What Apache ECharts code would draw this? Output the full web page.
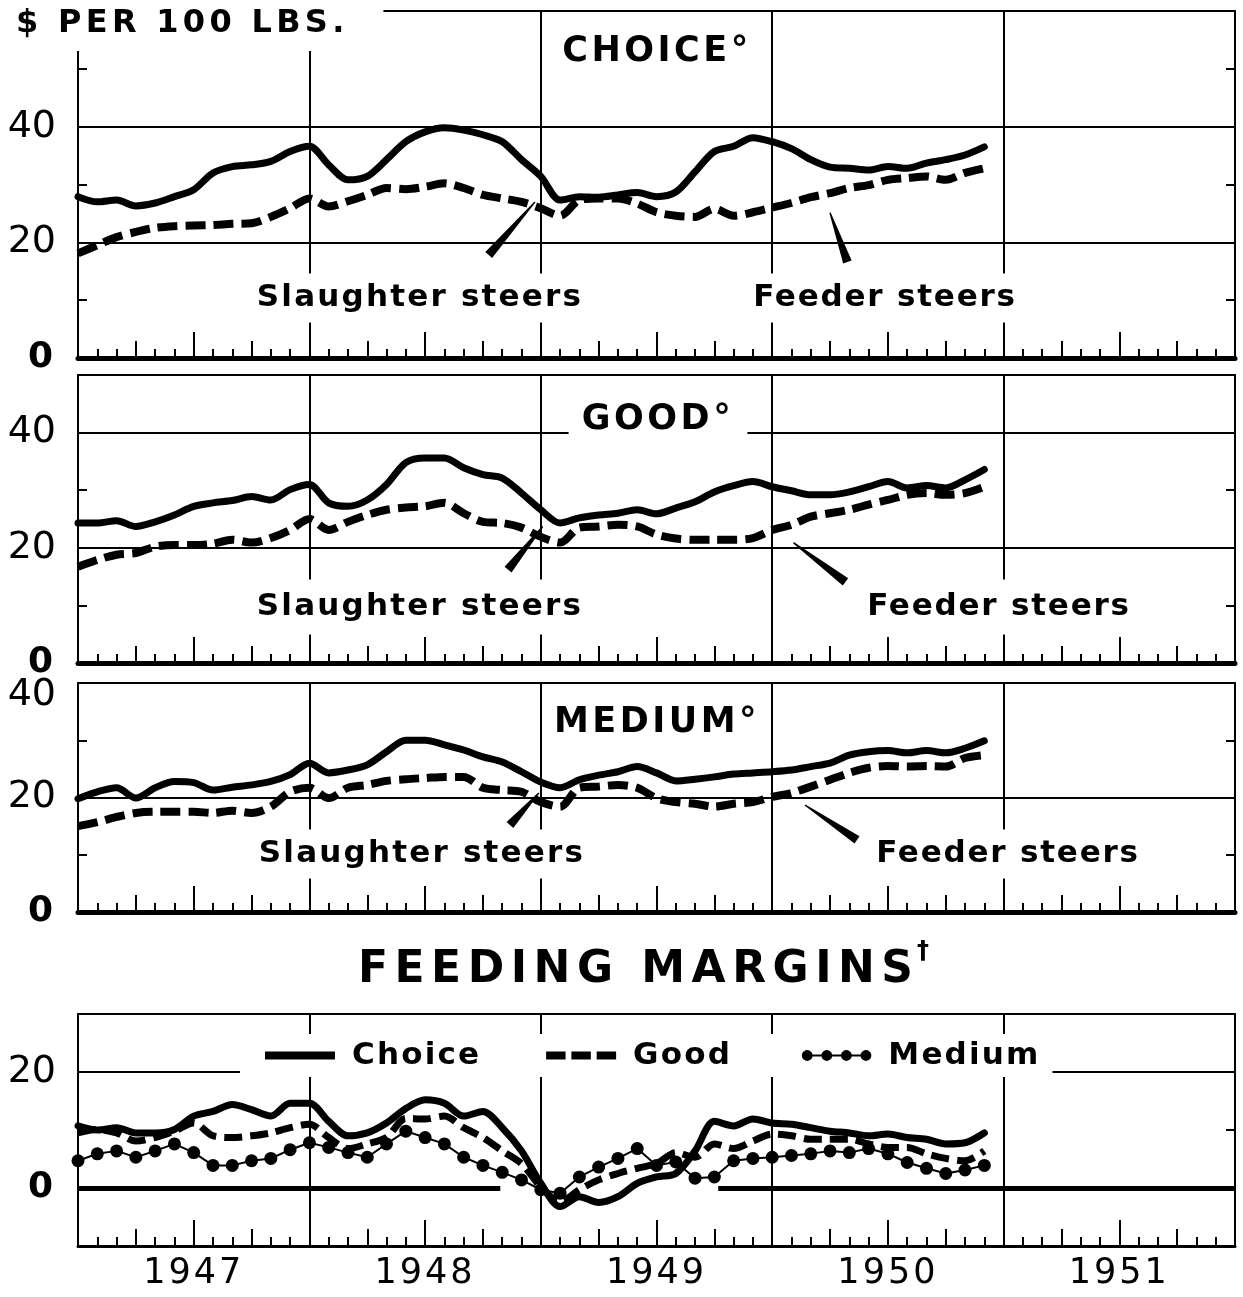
<!DOCTYPE html>
<html><head><meta charset="utf-8">
<script src="https://cdn.jsdelivr.net/npm/echarts@6.0.0/dist/echarts.min.js"></script>
<style>html,body{margin:0;padding:0;background:#fff}#c{width:1243px;height:1297px}</style>
</head><body><div id="c"></div>
<script>
// ---------------- data (monthly, Jan 1947 = index 0) ----------------
const yearLabels = ['1947', '1948', '1949', '1950', '1951'];

const choiceSlaughter = [27.9, 27.0, 27.3, 26.3, 26.8, 27.9, 29.1, 32.0, 33.1, 33.4, 34.0, 35.7,
  36.6, 33.4, 30.8, 31.4, 34.3, 37.4, 39.1, 39.8, 39.4, 38.6, 37.4, 34.3,
  31.4, 27.3, 27.9, 27.8, 28.2, 28.6, 27.9, 28.7, 32.2, 35.7, 36.6, 38.1,
  37.4, 36.2, 34.3, 33.0, 32.8, 32.5, 33.1, 32.8, 33.7, 34.3, 35.1, 36.5];
const choiceFeeder = [18.1, 19.5, 20.9, 21.8, 22.5, 22.8, 22.9, 23.0, 23.2, 23.3, 24.4, 25.9,
  27.6, 26.2, 27.1, 28.2, 29.4, 29.2, 29.6, 30.2, 29.4, 28.2, 27.6, 27.0,
  25.9, 24.6, 27.3, 27.6, 27.6, 26.7, 25.2, 24.6, 24.4, 25.8, 24.6, 25.2,
  26.0, 26.8, 27.8, 28.5, 29.4, 29.9, 30.8, 31.1, 31.4, 30.8, 32.0, 32.8];

const goodSlaughter = [24.3, 24.3, 24.7, 23.7, 24.5, 25.7, 27.2, 27.8, 28.2, 28.9, 28.3, 30.1,
  31.0, 27.8, 27.2, 28.3, 31.0, 34.8, 35.6, 35.6, 33.9, 32.7, 32.1, 29.5,
  26.6, 24.3, 25.2, 25.7, 26.0, 26.6, 25.9, 26.9, 28.0, 29.7, 30.8, 31.5,
  30.6, 29.9, 29.2, 29.2, 29.7, 30.6, 31.5, 30.4, 30.8, 30.4, 31.8, 33.6];
const goodFeeder = [16.7, 17.9, 18.8, 19.1, 20.2, 20.5, 20.5, 20.7, 21.4, 20.9, 21.7, 23.1,
  25.0, 23.1, 24.5, 25.7, 26.6, 27.0, 27.2, 27.8, 26.0, 24.5, 24.3, 23.5,
  21.9, 20.9, 23.5, 23.7, 24.0, 23.7, 22.3, 21.6, 21.4, 21.4, 21.4, 21.7,
  23.1, 24.0, 25.4, 26.0, 26.6, 27.5, 28.3, 29.2, 29.5, 29.2, 29.5, 30.6];

const mediumSlaughter = [19.8, 21.0, 21.7, 19.9, 21.7, 22.8, 22.6, 21.3, 21.8, 22.2, 22.8, 24.0,
  26.0, 24.3, 24.8, 25.7, 28.0, 30.0, 30.0, 29.2, 28.3, 27.1, 26.2, 24.5,
  22.7, 21.7, 23.1, 23.9, 24.5, 25.4, 24.3, 22.9, 23.2, 23.6, 24.1, 24.3,
  24.5, 24.8, 25.4, 26.0, 27.4, 28.0, 28.2, 27.8, 28.2, 27.8, 28.6, 29.9];
const mediumFeeder = [15.0, 15.7, 16.6, 17.3, 17.5, 17.5, 17.5, 17.3, 17.7, 17.3, 18.4, 21.0,
  21.7, 19.9, 21.7, 22.2, 22.9, 23.2, 23.4, 23.6, 23.6, 21.7, 21.3, 21.0,
  19.2, 18.4, 21.7, 21.9, 22.2, 21.7, 19.9, 19.2, 18.9, 18.4, 18.9, 19.2,
  20.1, 20.8, 21.9, 23.1, 24.3, 25.2, 25.5, 25.4, 25.5, 25.4, 26.9, 27.4];

const marginChoice = [10.7, 10.0, 10.4, 9.5, 9.5, 10.1, 12.4, 13.2, 14.4, 13.5, 12.4, 14.6,
  14.6, 11.5, 9.0, 9.5, 11.2, 13.7, 15.2, 14.6, 12.4, 13.2, 10.4, 6.4,
  0.8, -3.2, -1.5, -2.5, -1.5, 0.8, 1.9, 2.5, 6.4, 11.5, 10.7, 11.9,
  11.2, 11.0, 10.4, 9.8, 9.5, 9.0, 9.3, 8.7, 8.4, 7.6, 7.8, 9.5];
const marginGood = [9.5, 10.1, 9.5, 8.1, 8.7, 9.8, 11.2, 9.0, 8.7, 9.0, 9.5, 10.4,
  11.0, 8.7, 6.8, 7.6, 8.7, 12.0, 11.9, 12.4, 10.4, 8.7, 6.4, 4.2,
  0.2, -2.4, -0.3, 1.4, 2.5, 3.4, 4.2, 6.1, 5.3, 7.6, 6.8, 8.1,
  9.3, 9.0, 8.4, 8.4, 8.4, 7.6, 7.0, 7.0, 5.9, 5.1, 4.7, 6.4];
const marginMedium = [4.7, 5.9, 6.4, 5.3, 6.4, 7.6, 6.1, 3.9, 3.9, 4.7, 5.1, 6.6,
  7.8, 7.0, 6.1, 5.3, 7.6, 9.8, 8.7, 7.6, 5.3, 3.9, 2.7, 1.4,
  -0.3, -0.9, 1.9, 3.6, 5.1, 6.8, 3.9, 4.5, 1.7, 1.9, 4.7, 5.1,
  5.3, 5.6, 5.9, 6.4, 6.1, 6.8, 5.9, 4.4, 3.4, 2.5, 3.1, 3.9];

// annotation pointers: [tailMonth, tailValue, tipMonth, tipValue]
const pointerAnchors = [
  [[21.3, 17.8, 23.7, 27.0], [39.9, 16.6, 39.0, 25.1]],
  [[22.3, 16.2, 24.1, 23.7], [39.8, 14.1, 37.1, 20.9]],
  [[22.4, 15.2, 23.9, 20.8], [40.4, 12.6, 37.7, 18.7]]
];
const marginLegend = ['Choice', 'Good', 'Medium'];

// ---------------- styling ----------------
const FONT = "'DejaVu Sans', sans-serif";
const SPACING = {
  '$ PER 100 LBS.': 4.3, 'CHOICE°': 3.5, 'GOOD°': 3.5, 'MEDIUM°': 3.5,
  'Slaughter steers': 2.2, 'Feeder steers': 1.8, 'FEEDING MARGINS': 6.5,
  'Choice': 2.2, 'Good': 2.2, 'Medium': 2.2,
  '1947': 3, '1948': 3, '1949': 3, '1950': 3, '1951': 3
};
(function () {
  const proto = CanvasRenderingContext2D.prototype;
  const orig = proto.fillText;
  proto.fillText = function (t, x, y, w) {
    if ('letterSpacing' in this) this.letterSpacing = (SPACING[t] || 0) + 'px';
    return w === undefined ? orig.call(this, t, x, y) : orig.call(this, t, x, y, w);
  };
})();

const panels = [
  { top: 11, height: 347, min: 0, max: 60, axisW: 5 },
  { top: 375, height: 288, min: 0, max: 50, axisW: 5 },
  { top: 683, height: 229, min: 0, max: 40, axisW: 5 },
  { top: 1014, height: 232, min: -10, max: 30, axisW: 3 }
];
const steers = [
  [choiceSlaughter, choiceFeeder, 'Choice'],
  [goodSlaughter, goodFeeder, 'Good'],
  [mediumSlaughter, mediumFeeder, 'Medium']
];
const toPts = arr => arr.map((v, i) => [i, v]);
const BLACK = '#000';

const grid = [], xAxis = [], yAxis = [], series = [];
const yLeftIdx = [];
panels.forEach((p, g) => {
  grid.push({ left: 78, right: 8, top: p.top, height: p.height, containLabel: false, outerBoundsMode: 'none' });
  xAxis.push({
    gridIndex: g, type: 'value', min: 0, max: 60, interval: 3, position: 'bottom',
    axisLine: { show: true, onZero: false, lineStyle: { color: BLACK, width: p.axisW } },
    axisTick: { show: true, inside: true, length: 17, lineStyle: { color: BLACK, width: 2 } },
    minorTick: { show: true, splitNumber: 3, length: 9, lineStyle: { color: BLACK, width: 2 } },
    axisLabel: { show: false }, splitLine: { show: false }
  });
  xAxis.push({
    gridIndex: g, type: 'value', min: 0, max: 60, interval: 6, position: 'bottom',
    axisLine: { show: false, onZero: false },
    axisTick: { show: true, inside: true, length: 26, lineStyle: { color: BLACK, width: 2 } },
    axisLabel: {
      show: g === 3, margin: 10, color: BLACK, fontFamily: FONT, fontSize: 35, fontWeight: 'normal',
      formatter: v => ((v - 6) % 12 === 0 ? yearLabels[(v - 6) / 12] : '')
    },
    splitLine: { show: false }
  });
  xAxis.push({
    gridIndex: g, type: 'value', min: 0, max: 60, interval: 12, position: 'top',
    axisLine: { show: true, onZero: false, lineStyle: { color: BLACK, width: 2 } },
    axisTick: { show: false }, axisLabel: { show: false },
    splitLine: { show: true, lineStyle: { color: BLACK, width: 2 } }
  });
  yLeftIdx.push(yAxis.length);
  const topLabelDown = (p.max === 40);
  yAxis.push({
    gridIndex: g, type: 'value', min: p.min, max: p.max, interval: 10, position: 'left',
    axisLine: { show: true, onZero: false, lineStyle: { color: BLACK, width: 2 } },
    axisTick: { show: true, inside: true, length: 9, lineStyle: { color: BLACK, width: 2 } },
    axisLabel: {
      show: true, margin: 22, color: BLACK, fontFamily: FONT, fontSize: 38, fontWeight: 'normal',
      formatter: v => (v === 0 ? '{b|0}' : (v === 40 && topLabelDown) ? '{t|40}' : (v === 20 || v === 40) ? String(v) : ''),
      rich: {
        b: { fontFamily: FONT, fontSize: 36, fontWeight: 'bold', color: BLACK, padding: [0, 3, 0, 0] },
        t: { fontFamily: FONT, fontSize: 38, color: BLACK, padding: [24, 0, 0, 0] }
      }
    },
    splitLine: { show: false }
  });
  yAxis.push({
    gridIndex: g, type: 'value', min: p.min, max: p.max, interval: 10, position: 'right',
    axisLine: { show: true, onZero: false, lineStyle: { color: BLACK, width: 2 } },
    axisTick: { show: true, inside: true, length: 9, lineStyle: { color: BLACK, width: 2 } },
    axisLabel: { show: false }, splitLine: { show: false }
  });
  if (p.min === 0) {
    yAxis.push({
      gridIndex: g, type: 'value', min: p.min, max: p.max, interval: 20, position: 'left',
      axisLine: { show: false }, axisTick: { show: false }, axisLabel: { show: false },
      splitLine: { show: true, lineStyle: { color: BLACK, width: 2 } }
    });
  }
});

function wedge(params, api) {
  const a = api.coord([api.value(0), api.value(1)]);
  const b = api.coord([api.value(2), api.value(3)]);
  const dx = b[0] - a[0], dy = b[1] - a[1];
  const len = Math.hypot(dx, dy) || 1;
  const nx = -dy / len * 4.5, ny = dx / len * 4.5;
  return {
    type: 'polygon',
    shape: { points: [[a[0] + nx, a[1] + ny], [a[0] - nx, a[1] - ny], [b[0] - nx * 0.15, b[1] - ny * 0.15], [b[0] + nx * 0.15, b[1] + ny * 0.15]] },
    style: { fill: BLACK }
  };
}

steers.forEach(([sl, fd, nm], g) => {
  series.push({
    name: nm + ' slaughter steers', type: 'line', xAxisIndex: 3 * g, yAxisIndex: yLeftIdx[g],
    data: toPts(sl), symbol: 'none', smooth: 0.3, z: 3,
    lineStyle: { color: BLACK, width: 7, cap: 'round', join: 'round' }
  });
  series.push({
    name: nm + ' feeder steers', type: 'line', xAxisIndex: 3 * g, yAxisIndex: yLeftIdx[g],
    data: toPts(fd), symbol: 'none', smooth: 0.3, z: 3,
    lineStyle: { color: BLACK, width: 8, type: [20, 8], cap: 'butt', join: 'round' }
  });
  series.push({
    type: 'custom', xAxisIndex: 3 * g, yAxisIndex: yLeftIdx[g], silent: true, z: 4,
    data: pointerAnchors[g], encode: { x: [0, 2], y: [1, 3] }, renderItem: wedge
  });
});

series.push({
  name: 'Choice', type: 'line', xAxisIndex: 9, yAxisIndex: yLeftIdx[3],
  data: toPts(marginChoice), symbol: 'none', smooth: 0.3, z: 3,
  itemStyle: { color: BLACK },
  lineStyle: { color: BLACK, width: 7, cap: 'round', join: 'round' },
  markLine: {
    silent: true, symbol: 'none', label: { show: false }, animation: false,
    lineStyle: { color: BLACK, width: 5, type: 'solid' },
    data: [
      [{ coord: [0, 0] }, { coord: [21.9, 0] }],
      [{ coord: [33.2, 0] }, { coord: [60, 0] }],
      [{ coord: [0, 20], lineStyle: { width: 2 } }, { coord: [60, 20] }]
    ]
  }
});
series.push({
  name: 'Good', type: 'line', xAxisIndex: 9, yAxisIndex: yLeftIdx[3],
  data: toPts(marginGood), symbol: 'none', smooth: 0.3, z: 3,
  itemStyle: { color: BLACK },
  lineStyle: { color: BLACK, width: 7, type: [18, 8], cap: 'butt', join: 'round' }
});
series.push({
  name: 'Medium', type: 'line', xAxisIndex: 9, yAxisIndex: yLeftIdx[3],
  data: toPts(marginMedium), symbol: 'circle', symbolSize: 13, showSymbol: true, smooth: false, z: 3,
  itemStyle: { color: BLACK },
  lineStyle: { color: BLACK, width: 2 }
});

function text(t, x, y, size, opt) {
  opt = opt || {};
  return {
    type: 'text', x: x, y: y, z: 1, silent: true,
    style: Object.assign({
      text: t, fill: BLACK, font: 'bold ' + size + 'px ' + FONT,
      align: 'center', verticalAlign: 'middle'
    }, opt)
  };
}
const wbg = (pv, ph) => ({ backgroundColor: '#fff', padding: [pv, ph, pv, ph] });

const graphic = [
  text('$ PER 100 LBS.', 8, 24, 32, { align: 'left', backgroundColor: '#fff', padding: [6, 95, 16, 8] }),
  text('CHOICE°', 657, 52, 35),
  text('GOOD°', 658, 420, 35, wbg(6, 22)),
  text('MEDIUM°', 657, 723, 35),
  text('Slaughter steers', 420, 298, 31, wbg(9, 28)),
  text('Feeder steers', 885, 298, 31, wbg(9, 22)),
  text('Slaughter steers', 420, 607, 31, wbg(12, 28)),
  text('Feeder steers', 999, 607, 31, wbg(12, 22)),
  text('Slaughter steers', 422, 854, 31, wbg(9, 28)),
  text('Feeder steers', 1008, 854, 31, wbg(9, 22)),
  text('FEEDING MARGINS', 358, 971, 44, { align: 'left' }),
  text('†', 917, 952, 24, { align: 'left', font: 'bold 24px ' + FONT })
];

function circlePath(cx, cy, r) {
  let s = '';
  for (let k = 0; k < 20; k++) {
    const a = k / 20 * Math.PI * 2;
    s += (k ? 'L' : 'M') + (cx + r * Math.cos(a)).toFixed(2) + ',' + (cy + r * Math.sin(a)).toFixed(2);
  }
  return s + 'Z ';
}
const ICON_SOLID = 'path://M0,0h.01v.01h-.01Z M0,3H70V11H0Z M0,14h.01v.01h-.01Z';
const ICON_DASH = 'path://M0,0h.01v.01h-.01Z M0,3H20V11H0Z M26,3H46V11H26Z M52,3H72V11H52Z M0,14h.01v.01h-.01Z';
const ICON_DOTS = 'path://M0,0h.01v.01h-.01Z M0,14h.01v.01h-.01Z M6,6H66V8H6Z ' +
  circlePath(6, 7, 5.5) + circlePath(26, 7, 5.5) + circlePath(46, 7, 5.5) + circlePath(66, 7, 5.5);

const option = {
  backgroundColor: '#fff',
  animation: false,
  grid, xAxis, yAxis, series, graphic,
  legend: {
    left: 240, top: 1034, padding: [6, 25, 6, 25], backgroundColor: '#fff', z: 10,
    itemWidth: 70, itemHeight: 14, itemGap: 78, selectedMode: false,
    itemStyle: { color: BLACK, borderWidth: 0 },
    textStyle: { color: BLACK, fontFamily: FONT, fontSize: 31, fontWeight: 'bold', padding: [0, 0, 0, 12] },
    data: [
      { name: marginLegend[0], icon: ICON_SOLID },
      { name: marginLegend[1], icon: ICON_DASH },
      { name: marginLegend[2], icon: ICON_DOTS }
    ]
  }
};

const chart = echarts.init(document.getElementById('c'), null, { renderer: 'canvas' });
chart.setOption(option);
</script></body></html>
